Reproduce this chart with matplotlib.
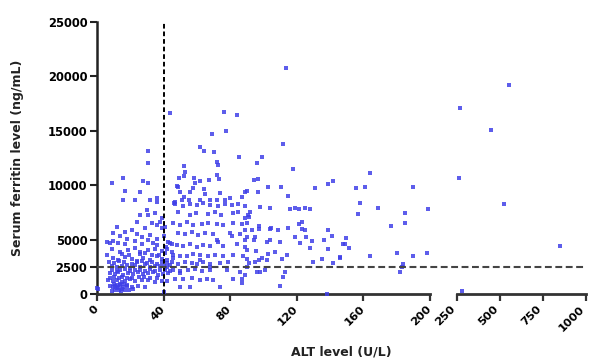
import matplotlib
matplotlib.use('Agg')
import matplotlib.pyplot as plt
from matplotlib.transforms import ScaledTranslation

plt.rcParams['font.family'] = ['DejaVu Sans']
plt.rcParams['font.weight'] = 'bold'

# ---------------- data ----------------
# dense cluster, ALT < ~46
alt_a = [25.8, 30.8, 29.9, 34.9, 23.8, 37.9, 35.8, 32.9, 28.8, 38.8, 20.9, 16.8, 11.8, 9.8,
         5.8, 7.8, 9.8, 12.8, 16.8, 22.8, 26.8, 30.8, 33.9, 35.8, 42.8, 43.9,
         8.8, 13.8, 18.8, 22.8, 25.8, 30.8, 34.9, 38.8, 41.8, 44.9,
         9.8, 12.8, 16.8, 20.9, 23.8, 27.8, 31.9, 35.8, 38.8, 41.8, 45.8,
         6, 15, 19, 26, 29, 33, 37,
         8.8, 11.8, 14.8, 17.9, 19.9, 22.8, 25.8, 28.8, 31.9, 34.9, 37.9, 40.8, 43.9,
         7, 10, 13, 16, 21, 24, 27, 30, 33, 36, 39, 42,
         7.8, 10.8, 12.8, 15.8, 18.8, 21.9, 24.8, 27.8, 30.8, 33.9, 36.9, 39.8, 42.8,
         9, 12, 14, 17, 20, 23, 26, 29, 32, 35, 38, 41, 44,
         6.8, 9.8, 11.8, 14.8, 16.8, 19.8, 22.8, 26.8, 30.8, 34.9, 38.8,
         8, 10, 13, 15, 18, 21, 25, 28, 32, 36,
         7.8, 9.8, 10.8, 11.8, 12.8, 13.8, 15.8, 17.9, 20.9, 24.8, 28.8, 21.9,
         9, 10.5, 11, 12, 13, 14, 14.5, 15, 16, 17, 18, 19,
         0.8, 0,
         30.8, 30.8, 8.8, 15.8, 27.8, 30.8, 16.8, 25.8, 15.8, 22.8, 31.9, 35.8, 35.8, 43.9,
         14, 18, 24, 27, 32, 36, 40, 39, 41]
ferritin_a = [7270, 7270, 7730, 7420, 6650, 6650, 6350, 6500, 6040, 6040, 5890, 5730, 6130, 5640,
              4800, 4650, 4900, 4700, 4550, 4850, 4600, 4950, 4700, 4500, 4800, 4650,
              4100, 3900, 4050, 4200, 3850, 4000, 4150, 3950, 4100, 3850,
              3300, 3100, 3400, 3200, 3050, 3350, 3150, 3450, 3250, 3100, 3300,
              3600, 3700, 3550, 3650, 3750, 3600, 3550,
              2600, 2450, 2550, 2700, 2400, 2650, 2500, 2750, 2450, 2600, 2550, 2400, 2700,
              2900, 2850, 3000, 2950, 2800, 2900, 3000, 2850, 2950, 2800, 2900, 2850,
              1900, 1800, 2000, 1750, 1950, 1850, 2050, 1800, 1900, 2000, 1750, 1850, 1950,
              2200, 2150, 2250, 2300, 2100, 2200, 2250, 2150, 2300, 2100, 2200, 2250, 2150,
              1250, 1150, 1300, 1100, 1200, 1350, 1150, 1250, 1300, 1100, 1200,
              1500, 1550, 1450, 1600, 1500, 1450, 1550, 1600, 1500, 1450,
              700, 600, 750, 550, 650, 800, 600, 700, 650, 750, 600, 500,
              300, 900, 400, 850, 350, 950, 250, 450, 900, 350, 800, 400,
              430, 550,
              13180, 12080, 10240, 10640, 10400, 10240, 9480, 9350, 8650, 8650, 8650, 8800, 8490, 16620,
              5300, 5100, 5500, 5200, 5400, 5100, 5300, 7000, 6200]

# ALT ~ 40-92
alt_b = [76, 84, 69, 77.5, 62, 64, 70.5, 85.5, 72, 72.5, 52, 53, 52.5, 49, 48, 48.5, 58, 59, 57.5,
         62, 67, 72, 73.5, 50, 52, 51, 47, 56, 64, 65, 74, 77, 72, 68, 62, 55, 80, 87, 90, 46.5,
         46.9, 51.9, 55.9, 59.9, 63.9, 67.9, 72.9, 76.9, 80.9, 84.9, 88.9,
         48.7, 55.7, 59.7, 66.7, 70.7, 74.7, 81.7, 84.7, 90.7,
         45.9, 49.9, 53.9, 57.9, 62.9, 66.9, 71.9, 75.9, 81.9, 86.9,
         48.9, 52.9, 56.9, 60.9, 64.9, 69.9, 71.9, 72.9, 79.9, 80.9, 85.9, 89.9,
         47.9, 51.9, 55.9, 59.9, 63.9, 67.9, 75.9, 83.9, 88.9, 44.9,
         45.9, 49.9, 53.9, 57.9, 61.9, 66.9, 70.9, 75.9, 81.9, 87.9,
         44.9, 48.9, 52.9, 56.9, 59.9, 63.9, 67.9, 73.9, 78.9,
         45.9, 49.9, 54.9, 58.9, 62.9, 67.9, 77.9,
         46.9, 51.9, 56.9, 61.9, 65.9, 81.9, 86.9,
         49.9, 55.9, 73.9,
         41.9, 49.9, 61.9, 67.9, 69.9, 85.9, 87, 90,
         40.5, 41, 42, 41.5, 40.2]
ferritin_b = [16770, 16470, 14690, 15000, 13550, 13100, 13030, 12630, 12100, 11900, 11780, 11250,
              10860, 10700, 9950, 9800, 10640, 10180, 9720, 10400, 10490, 10950, 10550, 9410, 8950,
              8650, 8490, 9410, 9630, 9170, 9320, 8650, 8650, 8650, 8650, 8650, 8860, 8890, 9500, 8340,
              8300, 8100, 8250, 8150, 8350, 8200, 8050, 8300, 8150, 8250, 8100,
              7500, 7300, 7450, 7350, 7550, 7250, 7400, 7500, 7300,
              6500, 6350, 6600, 6300, 6450, 6550, 6400, 6300, 6500, 6450,
              5600, 5500, 5700, 5450, 5650, 5550, 5000, 4800, 5600, 5300, 5500, 5200,
              4500, 4400, 4550, 4350, 4500, 4450, 4400, 4550, 4350, 4600,
              3600, 3500, 3450, 3650, 3550, 3500, 3600, 3450, 3550, 3500,
              2900, 2800, 2950, 2850, 2750, 2900, 2800, 2850, 2950,
              2250, 2150, 2200, 2300, 2150, 2200, 2250,
              1400, 1350, 1450, 1300, 1400, 1350, 1400,
              600, 650, 670,
              2510, 1900, 3130, 2510, 1290, 2050, 980, 2510,
              2600, 3800, 1200, 4300, 200]

# ALT ~ 89-150
alt_c = [113.6, 111.6, 117.8, 99, 96, 96.5, 94.5, 103, 110.8, 130.8, 138.8, 142, 114.8, 96.6, 89,
         98, 104, 115.8, 118.8, 121.2, 124.8, 127.8, 92, 91, 89, 90, 97, 97, 89, 93, 104.6, 104,
         109, 114.8, 119, 123, 121.2, 123, 125, 125.6, 122, 129, 136.4, 139, 141, 149.6, 110, 128,
         139, 95, 94.5, 89, 104, 102, 90, 95.5, 103, 107, 114, 111, 90, 99, 97, 130, 135.4, 142,
         146, 91, 89, 96, 101, 113, 112, 110, 138, 95, 98, 102]
ferritin_c = [20800, 13800, 11500, 12580, 12080, 10580, 10490, 9870, 9870, 9720, 10090, 10400, 9040,
              9350, 9410, 8030, 7870, 7800, 7950, 7850, 7900, 7820, 7570, 7110, 6960, 6560, 6280,
              5950, 5890, 5890, 6040, 5980, 5920, 6040, 5270, 6590, 6440, 5980, 5890, 5250, 4720,
              4900, 4920, 5890, 5370, 5120, 4780, 4230, 4140, 5270, 4970, 4970, 4970, 4810, 4050,
              3960, 3680, 3890, 3540, 3190, 3220, 3310, 3130, 2970, 3220, 2880, 3280, 2820, 1750,
              2050, 2210, 2050, 1540, 740, 0, 2970, 2050, 3130]

# ALT ~ 146-200
alt_d = [164, 155.6, 161, 189.7, 158, 169, 198.7, 156.7, 184.7, 184.7, 176.7, 148, 149, 151.6,
         146, 164, 180, 189.7, 198, 184, 183, 182]
ferritin_d = [11100, 9720, 9870, 9870, 8340, 7940, 7850, 7360, 7420, 6560, 6290, 4570, 4600, 4200,
              3370, 3500, 3800, 3500, 3740, 2760, 2510, 2050]

# ALT > 250 (right-hand segment of the broken axis)
alt_e = [277, 269, 260, 450, 525, 554, 849]
ferritin_e = [300, 17140, 10700, 15090, 8250, 19230, 4440]

alt_low = alt_a + alt_b + alt_c + alt_d
ferritin_low = ferritin_a + ferritin_b + ferritin_c + ferritin_d

x_ticks_low = [0, 40, 80, 120, 160, 200]
x_ticks_high = [250, 500, 750, 1000]
y_ticks = [0, 2500, 5000, 10000, 15000, 20000, 25000]
alt_cutoff = 40
ferritin_cutoff = 2500

# ---------------- figure ----------------
W, H = 589, 358
fig = plt.figure(figsize=(W / 100, H / 100), dpi=100)
ax1 = fig.add_axes([97 / W, 64 / H, 333 / W, 272 / H])
ax2 = fig.add_axes([457 / W, 64 / H, 129 / W, 272 / H])

pt_color = '#4040e8'
ax1.scatter(alt_low, ferritin_low, s=5.5, marker='s', color=pt_color, linewidths=0,
            alpha=0.85, clip_on=False, zorder=3)
ax2.scatter(alt_e, ferritin_e, s=5.5, marker='s', color=pt_color, linewidths=0,
            alpha=0.85, clip_on=False, zorder=3)

for ax in (ax1, ax2):
    ax.set_ylim(0, 25000)
    for s in ('top', 'right'):
        ax.spines[s].set_visible(False)
    ax.spines['bottom'].set_linewidth(2.0)
    ax.spines['bottom'].set_color('#333333')
    ax.tick_params(axis='x', direction='out', length=5, width=1.6, color='#333333',
                   labelsize=8.2, pad=2)
    ax.tick_params(axis='x', which='minor', direction='inout', length=11, width=1.8,
                   color='#222222')
    ax.set_facecolor('none')

ax1.set_xlim(0, 200)
ax2.set_xlim(250, 1000)
ax1.set_xticks(x_ticks_low)
ax2.set_xticks(x_ticks_high)
ax1.set_xticks([200], minor=True)
ax2.set_xticks([250, 1000], minor=True)
ax1.set_yticks(y_ticks)
ax1.spines['left'].set_linewidth(1.8)
ax1.spines['left'].set_color('#222222')
ax1.tick_params(axis='y', direction='out', length=5, width=1.5, color='#222222',
                labelsize=8.3, pad=2)
ax2.spines['left'].set_visible(False)
ax2.set_yticks([])

for ax, ticks, dx in ((ax1, x_ticks_low, -4), (ax2, x_ticks_high, -7)):
    ax.set_xticklabels([str(t) for t in ticks], rotation=45, ha='right', va='top',
                       rotation_mode='anchor', fontweight='bold')
    shift = ScaledTranslation(dx / 100, 0, fig.dpi_scale_trans)
    for lab in ax.get_xticklabels():
        lab.set_transform(lab.get_transform() + shift)
for lab in ax1.get_yticklabels():
    lab.set_fontweight('bold')

# reference lines
ax1.axvline(alt_cutoff, ymin=0, ymax=1, color='black', lw=1.4, ls=(0, (2.4, 1.5)), zorder=4)
ax1.axhline(ferritin_cutoff, xmin=0, xmax=(586 - 97) / 333, color='#444444', lw=1.5,
            ls=(0, (3.3, 1.7)), clip_on=False, zorder=4)

fig.text(18 / W, 1 - 158 / H, 'Serum ferritin level (ng/mL)', rotation=90, ha='center',
         va='center', fontsize=9, fontweight='bold', color='#222222')
fig.text(341 / W, 6 / H, 'ALT level (U/L)', ha='center', va='center', fontsize=9,
         fontweight='bold', color='#222222')

fig.savefig('out.png', dpi=100)
